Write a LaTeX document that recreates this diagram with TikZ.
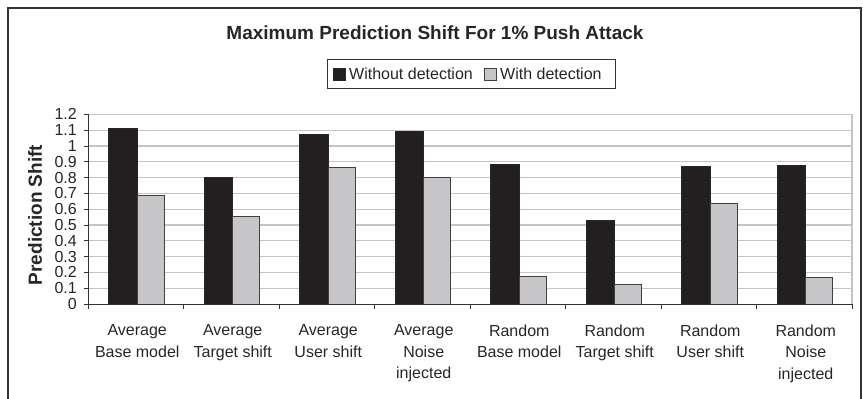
\documentclass[tikz,border=0pt]{standalone}
\usepackage{fontspec}
\setmainfont{Liberation Sans}
\definecolor{barblack}{HTML}{231F20}
\definecolor{bargray}{HTML}{C6C6C8}
\definecolor{gridcol}{HTML}{C4C4C4}
\definecolor{framecol}{HTML}{333333}
\begin{document}
\begin{tikzpicture}[x=1pt,y=-1pt,
  lbl/.style={font=\fontsize{16}{21.5}\selectfont, inner sep=0pt, text=black!85},
  ttl/.style={font=\fontsize{19}{22}\selectfont\bfseries, inner sep=0pt, text=black!85},
  gridline/.style={draw=gridcol, line width=1.1pt},
  blackbar/.style={fill=barblack, draw=black!85, line width=0.7pt},
  graybar/.style={fill=bargray, draw=black!75, line width=0.7pt},
  axisline/.style={draw=black!80, line width=0.9pt}]
\useasboundingbox (0,0) rectangle (863,399);
% outer frame
\draw[framecol, line width=1.2pt] (8,8) rectangle (861,420);
% title
\node[ttl] (title) at (435,33) {Maximum Prediction Shift For 1\% Push Attack};
% legend
\draw[draw=black!80, line width=0.9pt] (327,59) rectangle (615,88);
\draw[blackbar] (333,68) rectangle (345,80);
\node[lbl, anchor=west] (leg1) at (349,74) {Without detection};
\draw[graybar] (484.5,68) rectangle (496.5,80);
\node[lbl, anchor=west] (leg2) at (500,74) {With detection};
% y label
\node[ttl, rotate=90] (ylab) at (35,215) {Prediction Shift};
% gridlines
\foreach \k in {1,...,12} {
  \draw[gridline] (88,{304-\k*15.8}) -- (852,{304-\k*15.8});
}
\draw[gridline] (852,114.4) -- (852,304);
% bars
\foreach \i/\a/\b in {1/1.11/0.69, 2/0.804/0.557, 3/1.075/0.868, 4/1.095/0.803,
                      5/0.885/0.175, 6/0.532/0.127, 7/0.869/0.637, 8/0.875/0.168} {
  \pgfmathsetmacro{\cx}{88+(\i-0.5)*95.5}
  \draw[blackbar] ({\cx-27},304) rectangle ({\cx+1.5},{304-\a*158});
  \draw[graybar] ({\cx+1.5},304) rectangle ({\cx+28.5},{304-\b*158});
}
% axes
\draw[axisline] (88,114.4) -- (88,304);
\draw[axisline] (88,304) -- (852,304);
\foreach \k in {0,...,12} {
  \draw[axisline] (84,{304-\k*15.8}) -- (88,{304-\k*15.8});
}
\foreach \j in {0,...,8} {
  \draw[axisline] ({88+\j*95.5},304) -- ({88+\j*95.5},309);
}
% y tick labels
\foreach \k/\t in {0/0,1/0.1,2/0.2,3/0.3,4/0.4,5/0.5,6/0.6,7/0.7,8/0.8,9/0.9,10/1,11/1.1,12/1.2} {
  \node[lbl, anchor=east] (yt\k) at (77,{304-\k*15.8}) {\t};
}
% category labels
\foreach \i/\t in {1/{Average\\Base model}, 2/{Average\\Target shift}, 3/{Average\\User shift},
                   4/{Average\\Noise\\injected}, 5/{Random\\Base model}, 6/{Random\\Target shift},
                   7/{Random\\User shift}, 8/{Random\\Noise\\injected}} {
  \node[lbl, align=center, anchor=north] (cat\i) at ({88+(\i-0.5)*95.5+1.5},324.5) {\t};
}
\end{tikzpicture}
\end{document}
